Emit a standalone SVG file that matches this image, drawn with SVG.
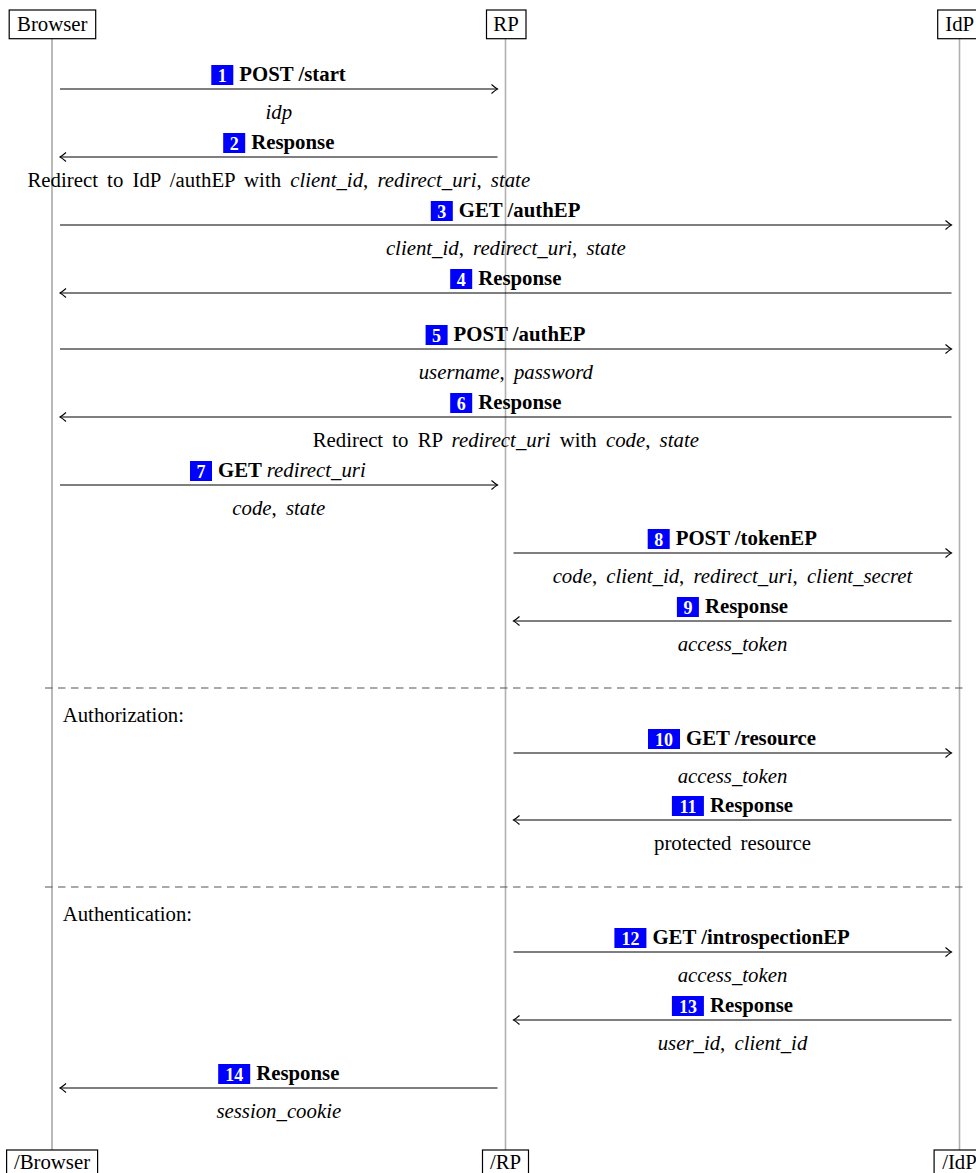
<svg xmlns="http://www.w3.org/2000/svg" width="976" height="1173" viewBox="0 0 976 1173">
<style>
text{font-family:"Liberation Serif","Times New Roman",serif;font-size:20.8px;fill:#000}
.box{fill:#fff;stroke:#000;stroke-width:1.2}
.ll1{stroke:#808080;stroke-width:1.1}
.ll2{stroke:#b0b0b0;stroke-width:1.6}
.msg{stroke:#000;stroke-width:1.2;fill:none;marker-end:url(#ah)}
.dash{stroke:#555;stroke-width:1.1;stroke-dasharray:7.5 5.5}
.badge{fill:#0000ff}
.num{fill:#fff;font-weight:bold;font-size:18px;text-anchor:middle}
.lbl{font-weight:bold}
.sub{text-anchor:middle;word-spacing:4px}
.i{font-style:italic}
.c{text-anchor:middle}
</style>
<defs>
<marker id="ah" markerUnits="userSpaceOnUse" markerWidth="12" markerHeight="12" viewBox="-8 -6 10 12" refX="0" refY="0" orient="auto">
<path d="M-6,-4.5 Q-2,-1 0,0 Q-2,1 -6,4.5" fill="none" stroke="#000" stroke-width="1.1"/>
</marker>
</defs>
<rect width="976" height="1173" fill="#fff"/>
<g id="browser">
<line class="ll1" x1="52" y1="38.7" x2="52" y2="1150"/>
<rect class="box" x="9.2" y="10" width="86.5" height="28.7"/>
<text class="c" x="52.3" y="31">Browser</text>
<rect class="box" x="6.6" y="1150" width="91" height="30"/>
<text class="c" x="52" y="1168.5">/Browser</text>
</g>
<g id="rp">
<line class="ll2" x1="505.5" y1="38.7" x2="505.5" y2="1150"/>
<rect class="box" x="486.5" y="10" width="39.5" height="28.7"/>
<text class="c" x="506" y="31">RP</text>
<rect class="box" x="482.5" y="1150" width="46" height="30"/>
<text class="c" x="505.5" y="1168.5">/RP</text>
</g>
<g id="idp">
<line class="ll2" x1="959.5" y1="38.7" x2="959.5" y2="1150"/>
<rect class="box" x="937.7" y="10" width="44" height="28.7"/>
<text class="c" x="959.7" y="31">IdP</text>
<rect class="box" x="934.1" y="1150" width="51" height="30"/>
<text class="c" x="959.5" y="1168.5">/IdP</text>
</g>
<g id="separators">
<line class="dash" x1="45" y1="688" x2="966" y2="688"/>
<text x="62.7" y="722">Authorization:</text>
<line class="dash" x1="45" y1="887" x2="966" y2="887"/>
<text x="62.7" y="921">Authentication:</text>
</g>
<g id="connectors">
<line class="msg" x1="60" y1="89" x2="497.5" y2="89"/>
<line class="msg" x1="497.5" y1="157" x2="60" y2="157"/>
<line class="msg" x1="60" y1="225" x2="951.5" y2="225"/>
<line class="msg" x1="951.5" y1="293" x2="60" y2="293"/>
<line class="msg" x1="60" y1="349" x2="951.5" y2="349"/>
<line class="msg" x1="951.5" y1="417" x2="60" y2="417"/>
<line class="msg" x1="60" y1="485" x2="497.5" y2="485"/>
<line class="msg" x1="513.5" y1="553" x2="951.5" y2="553"/>
<line class="msg" x1="951.5" y1="621" x2="513.5" y2="621"/>
<line class="msg" x1="513.5" y1="753" x2="951.5" y2="753"/>
<line class="msg" x1="951.5" y1="820" x2="513.5" y2="820"/>
<line class="msg" x1="513.5" y1="952" x2="951.5" y2="952"/>
<line class="msg" x1="951.5" y1="1020" x2="513.5" y2="1020"/>
<line class="msg" x1="497.5" y1="1088" x2="60" y2="1088"/>
</g>
<g id="labels">
<g id="m1"><rect class="badge" x="211.3" y="65" width="22" height="20"/><text class="num" x="222.3" y="81.5">1</text><text class="lbl" x="239.3" y="81.4">POST /start</text><text class="sub i" x="278.8" y="119">idp</text></g>
<g id="m2"><rect class="badge" x="223.2" y="133" width="22" height="20"/><text class="num" x="234.2" y="149.5">2</text><text class="lbl" x="251.2" y="149.4">Response</text><text class="sub" x="278.8" y="187">Redirect to IdP /authEP with <tspan class="i">client_id</tspan>, <tspan class="i">redirect_uri</tspan>, <tspan class="i">state</tspan></text></g>
<g id="m3"><rect class="badge" x="430.8" y="201" width="22" height="20"/><text class="num" x="441.8" y="217.5">3</text><text class="lbl" x="458.8" y="217.4">GET /authEP</text><text class="sub" x="505.8" y="255"><tspan class="i">client_id</tspan>, <tspan class="i">redirect_uri</tspan>, <tspan class="i">state</tspan></text></g>
<g id="m4"><rect class="badge" x="450.2" y="269" width="22" height="20"/><text class="num" x="461.2" y="285.5">4</text><text class="lbl" x="478.2" y="285.4">Response</text></g>
<g id="m5"><rect class="badge" x="425.6" y="325" width="22" height="20"/><text class="num" x="436.6" y="341.5">5</text><text class="lbl" x="453.6" y="341.4">POST /authEP</text><text class="sub" x="505.8" y="379"><tspan class="i">username</tspan>, <tspan class="i">password</tspan></text></g>
<g id="m6"><rect class="badge" x="450.2" y="393" width="22" height="20"/><text class="num" x="461.2" y="409.5">6</text><text class="lbl" x="478.2" y="409.4">Response</text><text class="sub" x="505.8" y="447">Redirect to RP <tspan class="i">redirect_uri</tspan> with <tspan class="i">code</tspan>, <tspan class="i">state</tspan></text></g>
<g id="m7"><rect class="badge" x="190" y="461" width="22" height="20"/><text class="num" x="201" y="477.5">7</text><text class="lbl" x="218" y="477.4">GET <tspan class="i" font-weight="normal">redirect_uri</tspan></text><text class="sub" x="278.8" y="515"><tspan class="i">code</tspan>, <tspan class="i">state</tspan></text></g>
<g id="m8"><rect class="badge" x="647.7" y="529" width="22" height="20"/><text class="num" x="658.7" y="545.5">8</text><text class="lbl" x="675.7" y="545.4">POST /tokenEP</text><text class="sub" x="732.5" y="583"><tspan class="i">code</tspan>, <tspan class="i">client_id</tspan>, <tspan class="i">redirect_uri</tspan>, <tspan class="i">client_secret</tspan></text></g>
<g id="m9"><rect class="badge" x="676.9" y="597" width="22" height="20"/><text class="num" x="687.9" y="613.5">9</text><text class="lbl" x="704.9" y="613.4">Response</text><text class="sub i" x="732.5" y="651">access_token</text></g>
<g id="m10"><rect class="badge" x="648" y="729" width="32" height="20"/><text class="num" x="664" y="745.5">10</text><text class="lbl" x="686" y="745.4">GET /resource</text><text class="sub i" x="732.5" y="783">access_token</text></g>
<g id="m11"><rect class="badge" x="671.9" y="796" width="32" height="20"/><text class="num" x="687.9" y="812.5">11</text><text class="lbl" x="709.9" y="812.4">Response</text><text class="sub" x="732.5" y="850">protected resource</text></g>
<g id="m12"><rect class="badge" x="614.4" y="928" width="32" height="20"/><text class="num" x="630.4" y="944.5">12</text><text class="lbl" x="652.4" y="944.4">GET /introspectionEP</text><text class="sub i" x="732.5" y="982">access_token</text></g>
<g id="m13"><rect class="badge" x="671.9" y="996" width="32" height="20"/><text class="num" x="687.9" y="1012.5">13</text><text class="lbl" x="709.9" y="1012.4">Response</text><text class="sub" x="732.5" y="1050"><tspan class="i">user_id</tspan>, <tspan class="i">client_id</tspan></text></g>
<g id="m14"><rect class="badge" x="218.2" y="1064" width="32" height="20"/><text class="num" x="234.2" y="1080.5">14</text><text class="lbl" x="256.2" y="1080.4">Response</text><text class="sub i" x="278.8" y="1118">session_cookie</text></g>
</g>
</svg>
